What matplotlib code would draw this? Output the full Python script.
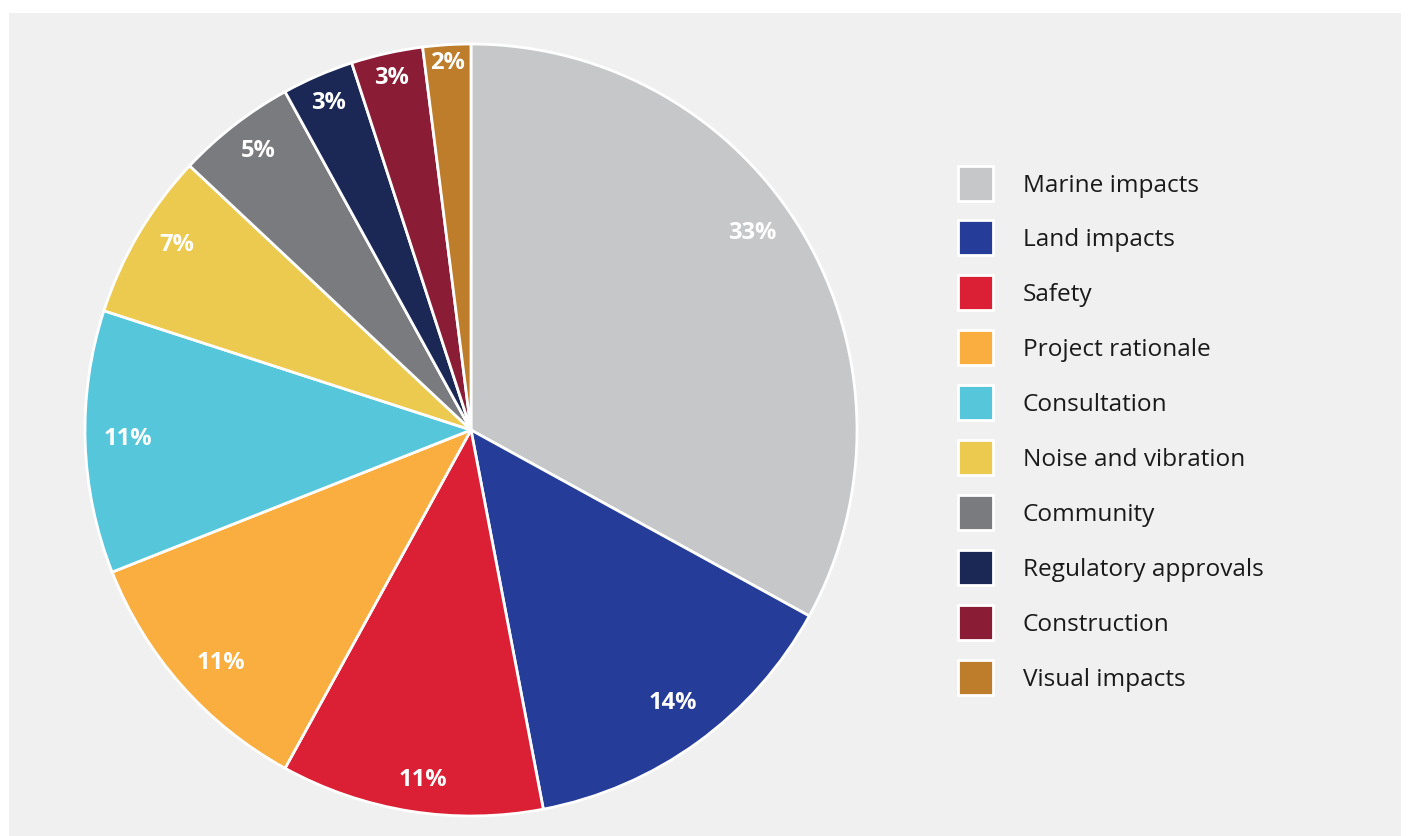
import numpy as np
import matplotlib
matplotlib.use("Agg")
import matplotlib.pyplot as plt
from matplotlib.patches import Rectangle

categories = ["Marine impacts", "Land impacts", "Safety", "Project rationale",
              "Consultation", "Noise and vibration", "Community",
              "Regulatory approvals", "Construction", "Visual impacts"]
values = [33, 14, 11, 11, 11, 7, 5, 3, 3, 2]
colors = ["#c6c7c9", "#253c98", "#db1f35", "#f9ae3f", "#56c6da",
          "#ecc94f", "#7a7b7f", "#1b2855", "#8b1c35", "#bd7d2b"]

# label placement style (radius fraction, angular nudge in degrees)
label_r = [0.89, 0.88, 0.915, 0.885, 0.89, 0.90, 0.91, 0.925, 0.935, 0.953]
label_nudge = [4.4, 0.4, 1.2, 1.6, -0.3, -1.6, -0.5, 0.2, 0.2, 0.1]

W, H = 1408, 836
fig = plt.figure(figsize=(W / 100, H / 100), dpi=100)
fig.patch.set_facecolor("white")

# gray panel
fig.patches.append(Rectangle((9 / W, 0), (1401 - 9) / W, (H - 13) / H,
                             transform=fig.transFigure, facecolor="#f0f0f0",
                             edgecolor="none", zorder=-5))

cx, cy, r = 471, H - 430, 386
ax = fig.add_axes([(cx - r) / W, (cy - r) / H, 2 * r / W, 2 * r / H])
ax.set_zorder(1)
ax.set_facecolor("none")
wedges, _ = ax.pie(values, colors=colors, startangle=90, counterclock=False,
                   wedgeprops=dict(edgecolor="white", linewidth=2))
for w, v, lr, nd in zip(wedges, values, label_r, label_nudge):
    mid = np.deg2rad((w.theta1 + w.theta2) / 2 + nd)
    ax.text(lr * np.cos(mid), lr * np.sin(mid), f"{v}%", color="white",
            fontsize=17, fontweight="bold", ha="center", va="center",
            family=["Open Sans", "DejaVu Sans"])
ax.set_xlim(-1, 1)
ax.set_ylim(-1, 1)
ax.set_aspect("equal")
ax.axis("off")

# legend
sq = 35
x0 = 958
for i, (cat, col) in enumerate(zip(categories, colors)):
    yc = 183 + 54.9 * i
    fig.patches.append(Rectangle((x0 / W, (H - yc - sq / 2) / H), sq / W, sq / H,
                                 transform=fig.transFigure, facecolor=col,
                                 edgecolor="white", linewidth=2, zorder=2))
    fig.text(1023 / W, (H - yc - 2.5) / H, cat, fontsize=17.6, color="#1a1a1a",
             va="center", ha="left", family=["Open Sans", "DejaVu Sans"])

fig.savefig("out.png", dpi=100, facecolor=fig.get_facecolor())
